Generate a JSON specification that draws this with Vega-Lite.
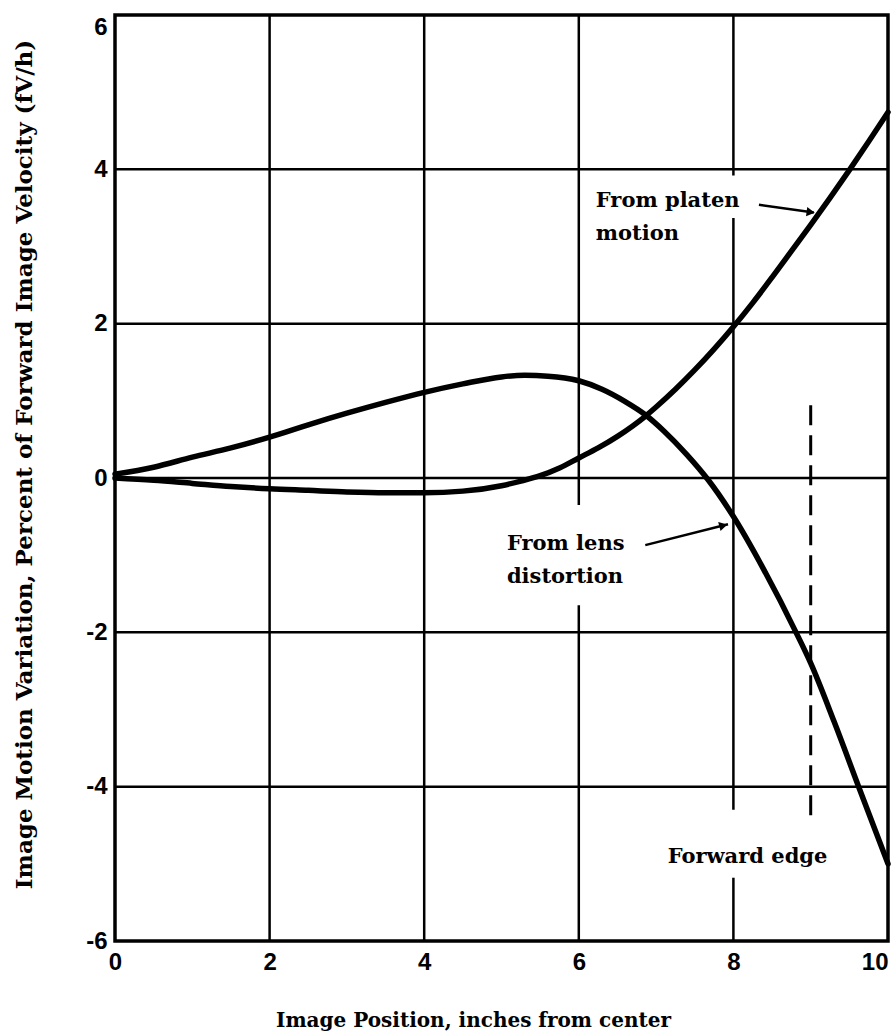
{
  "$schema": "https://vega.github.io/schema/vega-lite/v6.json",
  "width": 773,
  "height": 926,
  "autosize": "none",
  "padding": {"left": 115, "top": 15, "right": 5, "bottom": 93},
  "background": "white",
  "config": {
    "view": {"stroke": "black", "strokeWidth": 3.5},
    "axis": {"grid": false, "domain": false, "ticks": false, "labelColor": "black", "titleColor": "black"}
  },
  "datasets": {
    "curves": [
      {"series": "platen", "x": 0, "y": 0.0},
      {"series": "platen", "x": 0.5, "y": -0.03},
      {"series": "platen", "x": 1, "y": -0.07},
      {"series": "platen", "x": 1.5, "y": -0.11},
      {"series": "platen", "x": 2, "y": -0.14},
      {"series": "platen", "x": 2.5, "y": -0.16},
      {"series": "platen", "x": 3, "y": -0.18},
      {"series": "platen", "x": 3.5, "y": -0.19},
      {"series": "platen", "x": 4, "y": -0.19},
      {"series": "platen", "x": 4.5, "y": -0.17},
      {"series": "platen", "x": 5, "y": -0.1},
      {"series": "platen", "x": 5.25, "y": -0.04},
      {"series": "platen", "x": 5.5, "y": 0.03},
      {"series": "platen", "x": 5.75, "y": 0.13},
      {"series": "platen", "x": 6, "y": 0.26},
      {"series": "platen", "x": 6.25, "y": 0.39},
      {"series": "platen", "x": 6.5, "y": 0.54},
      {"series": "platen", "x": 6.86, "y": 0.8},
      {"series": "platen", "x": 7, "y": 0.92},
      {"series": "platen", "x": 7.25, "y": 1.15},
      {"series": "platen", "x": 7.5, "y": 1.4},
      {"series": "platen", "x": 7.75, "y": 1.67},
      {"series": "platen", "x": 8, "y": 1.96},
      {"series": "platen", "x": 8.25, "y": 2.27},
      {"series": "platen", "x": 8.5, "y": 2.6},
      {"series": "platen", "x": 8.75, "y": 2.94},
      {"series": "platen", "x": 9, "y": 3.28},
      {"series": "platen", "x": 9.25, "y": 3.63},
      {"series": "platen", "x": 9.5, "y": 3.99},
      {"series": "platen", "x": 9.75, "y": 4.36},
      {"series": "platen", "x": 10, "y": 4.74},
      {"series": "lens", "x": 0, "y": 0.05},
      {"series": "lens", "x": 0.5, "y": 0.14},
      {"series": "lens", "x": 1, "y": 0.27},
      {"series": "lens", "x": 1.5, "y": 0.39},
      {"series": "lens", "x": 2, "y": 0.53},
      {"series": "lens", "x": 2.5, "y": 0.69},
      {"series": "lens", "x": 3, "y": 0.84},
      {"series": "lens", "x": 3.5, "y": 0.98},
      {"series": "lens", "x": 4, "y": 1.11},
      {"series": "lens", "x": 4.5, "y": 1.22},
      {"series": "lens", "x": 5, "y": 1.31},
      {"series": "lens", "x": 5.3, "y": 1.33},
      {"series": "lens", "x": 5.6, "y": 1.32},
      {"series": "lens", "x": 6, "y": 1.26},
      {"series": "lens", "x": 6.3, "y": 1.15},
      {"series": "lens", "x": 6.6, "y": 0.99},
      {"series": "lens", "x": 6.86, "y": 0.82},
      {"series": "lens", "x": 7.1, "y": 0.61},
      {"series": "lens", "x": 7.4, "y": 0.3},
      {"series": "lens", "x": 7.67, "y": -0.02},
      {"series": "lens", "x": 8, "y": -0.5},
      {"series": "lens", "x": 8.4, "y": -1.2},
      {"series": "lens", "x": 8.81, "y": -2.0},
      {"series": "lens", "x": 9, "y": -2.4},
      {"series": "lens", "x": 9.3, "y": -3.15},
      {"series": "lens", "x": 9.62, "y": -4.0},
      {"series": "lens", "x": 10, "y": -5.0}
    ],
    "vgrid": [
      {"x": 2, "y1": -6, "y2": 6},
      {"x": 4, "y1": -6, "y2": 6},
      {"x": 6, "y1": -0.35, "y2": 6},
      {"x": 6, "y1": -6, "y2": -1.65},
      {"x": 8, "y1": 3.92, "y2": 6},
      {"x": 8, "y1": -4.3, "y2": 3.37},
      {"x": 8, "y1": -6, "y2": -5.18}
    ],
    "hgrid": [
      {"y": 4, "x1": 0, "x2": 10},
      {"y": 2, "x1": 0, "x2": 10},
      {"y": 0, "x1": 0, "x2": 10},
      {"y": -2, "x1": 0, "x2": 10},
      {"y": -4, "x1": 0, "x2": 10}
    ],
    "edge": [{"x": 9, "y1": -4.37, "y2": 1.04}],
    "arrows": [
      {"arrow": "platen", "x": 8.33, "y": 3.54},
      {"arrow": "platen", "x": 9.04, "y": 3.44},
      {"arrow": "lens", "x": 6.86, "y": -0.87},
      {"arrow": "lens", "x": 7.93, "y": -0.6}
    ],
    "heads": [
      {"arrow": "platen", "x": 9.0, "y": 3.445},
      {"arrow": "lens", "x": 7.87, "y": -0.615}
    ],
    "labels": [
      {"text": "From platen", "x": 6.22, "y": 3.51},
      {"text": "motion", "x": 6.22, "y": 3.08},
      {"text": "From lens", "x": 5.07, "y": -0.93},
      {"text": "distortion", "x": 5.07, "y": -1.36},
      {"text": "Forward edge", "x": 7.15, "y": -4.99}
    ]
  },
  "layer": [
    {
      "data": {"name": "vgrid"},
      "mark": {"type": "rule", "color": "black", "strokeWidth": 2.5},
      "encoding": {
        "x": {"field": "x", "type": "quantitative", "scale": {"domain": [0, 10], "nice": false, "zero": false},
          "axis": {
            "values": [0, 2, 4, 6, 8, 10],
            "labelExpr": "'' + datum.value",
            "labelFont": "Liberation Sans", "labelFontWeight": "bold", "labelFontSize": 24,
            "labelPadding": 9, "labelFlush": false,
            "labelAlign": {"condition": {"test": "datum.value == 10", "value": "right"}, "value": "center"},
            "title": "Image Position, inches from center",
            "titleFont": "DejaVu Serif", "titleFontWeight": "bold", "titleFontSize": 20,
            "titleX": 358, "titleY": 79, "titleBaseline": "middle", "titleAlign": "center"
          }},
        "y": {"field": "y1", "type": "quantitative", "scale": {"domain": [-6, 6], "nice": false, "zero": false},
          "axis": {
            "values": [-6, -4, -2, 0, 2, 4, 6],
            "labelExpr": "'' + datum.value",
            "labelFont": "Liberation Sans", "labelFontWeight": "bold", "labelFontSize": 24,
            "labelPadding": 8, "labelFlush": false,
            "labelBaseline": {"condition": {"test": "datum.value == 6", "value": "top"}, "value": "middle"},
            "title": "Image Motion Variation, Percent of Forward Image Velocity (fV/h)",
            "titleFont": "DejaVu Serif", "titleFontWeight": "bold", "titleFontSize": 23,
            "titleX": -91, "titleY": 449, "titleBaseline": "middle", "titleAlign": "center", "titleAngle": -90
          }},
        "y2": {"field": "y2"}
      }
    },
    {
      "data": {"name": "hgrid"},
      "mark": {"type": "rule", "color": "black", "strokeWidth": 2.5},
      "encoding": {
        "y": {"field": "y", "type": "quantitative"},
        "x": {"field": "x1", "type": "quantitative"},
        "x2": {"field": "x2"}
      }
    },
    {
      "data": {"name": "edge"},
      "mark": {"type": "rule", "color": "black", "strokeWidth": 3, "strokeDash": [20, 10]},
      "encoding": {
        "x": {"field": "x", "type": "quantitative"},
        "y": {"field": "y1", "type": "quantitative"},
        "y2": {"field": "y2"}
      }
    },
    {
      "data": {"name": "curves"},
      "mark": {"type": "line", "color": "black", "strokeWidth": 5.5, "interpolate": "monotone", "strokeCap": "round"},
      "encoding": {
        "x": {"field": "x", "type": "quantitative"},
        "y": {"field": "y", "type": "quantitative"},
        "detail": {"field": "series"}
      }
    },
    {
      "data": {"name": "arrows"},
      "mark": {"type": "line", "color": "black", "strokeWidth": 2.5},
      "encoding": {
        "x": {"field": "x", "type": "quantitative"},
        "y": {"field": "y", "type": "quantitative"},
        "detail": {"field": "arrow"}
      }
    },
    {
      "data": {"name": "heads"},
      "transform": [{"filter": "datum.arrow == 'platen'"}],
      "mark": {"type": "point", "shape": "triangle-right", "filled": true, "color": "black", "size": 90, "angle": 7.5, "opacity": 1},
      "encoding": {
        "x": {"field": "x", "type": "quantitative"},
        "y": {"field": "y", "type": "quantitative"}
      }
    },
    {
      "data": {"name": "heads"},
      "transform": [{"filter": "datum.arrow == 'lens'"}],
      "mark": {"type": "point", "shape": "triangle-right", "filled": true, "color": "black", "size": 90, "angle": -14.5, "opacity": 1},
      "encoding": {
        "x": {"field": "x", "type": "quantitative"},
        "y": {"field": "y", "type": "quantitative"}
      }
    },
    {
      "data": {"name": "labels"},
      "mark": {"type": "text", "align": "left", "baseline": "alphabetic", "font": "DejaVu Serif", "fontWeight": "bold", "fontSize": 21, "color": "black"},
      "encoding": {
        "x": {"field": "x", "type": "quantitative"},
        "y": {"field": "y", "type": "quantitative"},
        "text": {"field": "text"}
      }
    }
  ]
}
